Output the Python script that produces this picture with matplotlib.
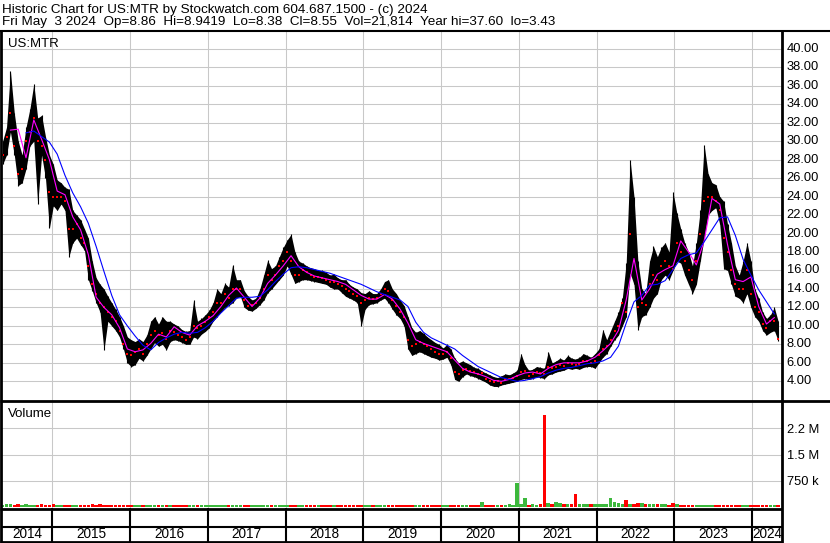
import numpy as np
import matplotlib
matplotlib.use("Agg")
import matplotlib.pyplot as plt
from matplotlib.lines import Line2D
import matplotlib.transforms as mtransforms

plt.rcParams['font.family'] = ['Liberation Sans', 'DejaVu Sans']

# ---------------- data ----------------
start_year = 2014.36
end_year = 2024.337
years = list(range(2014, 2025))

hi = [
    30.0, 31.5, 37.6, 33.0, 30.0, 28.5, 31.5, 33.5, 36.2, 32.5,
    32.8, 30.5, 28.5, 27.5, 25.8, 25.5, 25.0, 24.8, 22.5, 22.0,
    21.5, 20.5, 19.5, 17.0, 15.2, 14.5, 14.0, 13.2, 12.5, 11.8,
    11.0, 10.0, 8.8, 8.5, 8.3, 8.6, 8.3, 9.0, 10.5, 11.0,
    10.2, 11.0, 10.5, 10.5, 10.2, 10.0, 9.6, 9.4, 9.5, 12.8,
    10.5, 10.8, 11.2, 11.7, 12.5, 14.0, 13.5, 14.6, 14.2, 16.6,
    15.0, 15.0, 13.8, 13.2, 12.8, 13.0, 14.0, 15.5, 17.1, 16.2,
    16.5, 17.5, 18.5, 19.3, 19.9, 18.0, 17.0, 16.8, 16.5, 16.3,
    16.2, 16.0, 16.0, 15.8, 15.5, 15.6, 15.2, 15.0, 15.0, 14.5,
    14.2, 14.0, 13.6, 13.5, 13.8, 13.5, 13.5, 14.0, 14.8, 15.0,
    14.0, 13.5, 12.8, 12.2, 11.0, 9.8, 9.3, 9.5, 9.2, 8.8,
    8.5, 8.2, 8.0, 7.6, 8.0, 7.5, 6.5, 6.0, 6.2, 6.0,
    5.8, 5.5, 5.4, 5.1, 4.9, 4.7, 4.5, 4.4, 4.6, 4.8,
    4.7, 4.9, 5.2, 7.0, 5.8, 5.2, 5.3, 5.6, 5.5, 5.4,
    7.2, 6.0, 6.2, 6.5, 6.3, 6.8, 6.5, 6.4, 6.6, 7.0,
    6.8, 6.6, 7.0, 7.5, 9.6, 8.5, 9.5, 10.5, 11.5, 13.0,
    16.8, 28.0, 24.0, 17.0, 14.0, 13.5, 17.0, 18.6, 17.5, 18.5,
    19.0, 18.0, 24.5, 22.2, 20.5, 19.0, 18.0, 16.5, 19.0, 22.5,
    29.6, 26.5, 25.5, 25.3, 24.0, 23.5, 21.0, 19.0, 16.5, 15.5,
    17.0, 19.0, 17.0, 14.0, 13.0, 11.5, 10.8, 11.2, 12.0, 10.5,
]

lo = [
    27.5, 28.5, 31.0, 28.5, 25.2, 25.5, 27.0, 29.5, 30.0, 23.2,
    28.5, 26.0, 20.6, 23.0, 22.5, 23.2, 22.5, 17.5, 19.0, 19.5,
    18.8, 18.2, 15.0, 13.8, 12.5, 11.5, 7.4, 10.5, 10.0, 9.5,
    8.8, 7.5, 6.0, 5.6, 5.8, 6.5, 6.2, 6.8, 7.5, 8.2,
    7.8, 8.0, 7.4, 8.3, 8.5, 8.4, 8.2, 8.0, 8.0, 8.8,
    8.6, 9.1, 9.4, 9.8, 10.5, 11.0, 11.5, 12.0, 12.2, 12.5,
    13.0, 13.2, 12.0, 11.7, 11.6, 11.9, 12.3, 12.8, 13.6, 14.0,
    14.5, 15.0, 15.5, 16.5, 15.6, 14.6, 14.8, 15.0, 15.0, 14.9,
    14.8, 14.7, 14.6, 14.5, 14.2, 14.0, 14.0, 13.6, 13.2, 13.0,
    12.8, 12.5, 10.0, 11.8, 12.3, 12.4, 12.5, 12.8, 13.0, 12.5,
    11.8, 11.2, 10.8, 10.0, 7.5, 6.8, 7.0, 7.2, 7.0, 6.8,
    6.6, 6.5, 6.3, 6.4, 6.6, 5.8, 4.2, 4.0, 4.5, 4.8,
    4.6, 4.5, 4.3, 4.1, 3.9, 3.6, 3.45, 3.43, 3.6, 3.7,
    3.8, 3.9, 4.0, 4.2, 4.3, 4.2, 4.3, 4.5, 4.4, 4.3,
    4.7, 4.8, 5.0, 5.1, 5.2, 5.4, 5.3, 5.4, 5.3, 5.5,
    5.6, 5.6, 5.4, 6.0, 6.6, 7.0, 7.8, 8.5, 9.0, 10.0,
    11.0, 15.7, 14.5, 9.6, 11.0, 11.2, 12.0, 13.0, 13.5, 15.0,
    15.5, 15.0, 16.0, 17.0, 16.8, 15.5, 14.5, 13.5, 14.5, 17.0,
    19.5, 22.0, 22.5, 22.8, 21.0, 16.2, 16.0, 14.5, 13.2, 13.0,
    12.5, 13.5, 12.0, 11.0, 10.5, 9.5, 9.0, 9.3, 9.5, 8.38,
]

close = [
    28.5, 30.5, 33.0, 29.5, 26.5, 27.0, 30.0, 31.0, 32.5, 30.0,
    29.5, 28.0, 24.5, 24.0, 24.0, 24.0, 23.5, 20.5, 20.5, 21.0,
    19.5, 19.0, 16.5, 14.5, 13.5, 12.5, 12.0, 11.5, 11.0, 10.5,
    9.5, 8.0, 7.0, 6.8, 7.2, 7.5, 7.0, 8.0, 9.0, 9.5,
    9.0, 9.2, 8.6, 9.5, 9.3, 9.0, 8.8, 8.5, 8.8, 10.0,
    9.8, 10.0, 10.4, 11.0, 11.5, 12.5, 12.5, 13.5, 13.0, 14.0,
    14.0, 14.0, 12.8, 12.2, 12.3, 12.5, 13.0, 14.0, 15.5, 15.0,
    15.5, 16.5, 17.0, 18.0, 17.0, 15.5, 15.5, 16.0, 15.8, 15.5,
    15.3, 15.3, 15.2, 15.0, 14.8, 14.8, 14.5, 14.3, 14.0, 13.8,
    13.5, 13.2, 12.5, 12.8, 13.0, 12.9, 13.0, 13.4, 14.0, 13.8,
    12.8, 12.2, 11.5, 11.0, 8.5, 7.8, 8.0, 8.3, 8.0, 7.8,
    7.5, 7.2, 7.0, 7.0, 7.2, 6.5, 5.0, 4.8, 5.2, 5.3,
    5.1, 5.0, 4.8, 4.9, 4.3, 4.0, 3.9, 4.0, 3.8, 4.2,
    4.3, 4.4, 4.6, 5.0, 5.1, 4.6, 4.8, 5.0, 4.9, 4.8,
    5.5, 5.4, 5.5, 5.8, 5.7, 6.0, 5.9, 5.8, 5.9, 6.2,
    6.2, 6.0, 6.2, 6.8, 7.5, 7.8, 8.5, 9.5, 10.0, 12.5,
    11.5, 20.0, 17.0, 12.0, 12.5, 12.3, 14.5, 15.5, 15.0, 16.5,
    17.0, 16.5, 16.2, 19.0, 18.0, 17.0, 16.0, 15.0, 17.0, 20.0,
    23.5, 24.0, 24.0, 23.5, 22.5, 19.5, 18.0, 16.0, 14.5, 14.0,
    14.0, 16.0, 13.5, 12.0, 11.5, 10.2, 9.8, 10.5, 10.5, 8.55,
]

# short moving average (magenta) and long moving average (blue), every 2nd bar
ma_short = [
    np.nan, 31.2, 31.3, 28.2, 32.3, 30.2, 28.0, 24.6, 24.2, 21.8,
    20.4, 17.7, 13.1, 12.0, 11.2, 9.8, 7.5, 7.2, 7.4, 8.1,
    9.1, 8.8, 9.9, 9.3, 9.0, 10.0, 10.5, 11.1, 12.1, 13.3,
    14.1, 13.1, 12.1, 13.0, 14.6, 15.5, 16.5, 17.6, 16.4, 15.8,
    15.4, 15.2, 15.0, 14.8, 14.5, 13.9, 13.3, 12.9, 12.9, 13.4,
    12.9, 11.8, 10.3, 8.5, 8.1, 7.8, 7.5, 7.2, 6.3, 5.4,
    5.0, 4.8, 4.5, 4.1, 4.0, 4.2, 4.6, 4.9, 5.0, 4.8,
    5.4, 5.8, 6.0, 6.0, 6.0, 6.2, 6.6, 7.3, 8.1, 9.5,
    12.8, 17.3, 12.8, 14.0, 15.6, 16.1, 16.5, 19.2, 18.0, 16.6,
    19.2, 23.8, 23.2, 18.8, 15.0, 14.8, 15.3, 12.1, 10.2, 10.9,
]

ma_long = [
    np.nan, np.nan, np.nan, 30.9, 31.1, 30.5, 29.9, 28.6, 26.3, 24.4,
    22.9, 21.1, 18.6, 15.9, 13.3, 11.2, 10.0, 8.9, 7.9, 7.4,
    8.2, 8.7, 9.1, 9.3, 9.2, 9.3, 9.8, 10.5, 11.4, 12.2,
    13.0, 13.1, 13.1, 13.2, 13.9, 14.8, 15.6, 16.3, 16.4, 16.3,
    16.1, 15.9, 15.7, 15.4, 15.1, 14.8, 14.5, 14.1, 13.7, 13.4,
    13.1, 12.8, 12.1, 10.4, 9.3, 8.7, 8.3, 7.9, 7.5, 6.8,
    6.2, 5.6, 5.2, 4.8, 4.4, 4.2, 4.0, 4.1, 4.3, 4.5,
    4.9, 5.2, 5.4, 5.5, 5.7, 5.9, 6.0, 6.2, 6.6, 7.8,
    10.3, 12.6, 13.3, 14.4, 14.5, 14.9, 16.1, 17.3, 17.7, 17.9,
    19.1, 20.4, 21.7, 21.8, 19.8, 17.2, 15.5, 13.9, 12.6, 11.3,
]

# volume in thousands of shares
volume_k = [
    60, 75, 90, 55, 80, 50, 95, 65, 70, 55,
    80, 60, 50, 75, 65, 55, 70, 45, 65, 55,
    70, 55, 60, 80, 55, 90, 70, 55, 60, 45,
    55, 65, 70, 55, 45, 60, 55, 70, 45, 55,
    60, 45, 55, 70, 60, 55, 45, 60, 55, 70,
    45, 55, 60, 45, 55, 60, 70, 55, 45, 60,
    55, 60, 45, 55, 70, 60, 55, 45, 55, 60,
    55, 45, 60, 55, 70, 45, 55, 60, 55, 45,
    55, 60, 45, 55, 60, 55, 45, 55, 60, 45,
    55, 45, 60, 55, 45, 60, 55, 45, 55, 60,
    65, 55, 45, 60, 55, 45, 55, 60, 45, 55,
    60, 55, 45, 55, 60, 45, 55, 60, 55, 65,
    60, 55, 70, 145, 65, 60, 55, 65, 60, 70,
    75, 60, 685, 90, 270, 60, 75, 65, 85, 2620,
    110, 90, 140, 110, 80, 100, 90, 375, 90, 80,
    75, 90, 80, 85, 100, 90, 260, 130, 110, 100,
    200, 100, 90, 110, 120, 100, 90, 80, 85, 75,
    80, 70, 115, 75, 70, 65, 60, 70, 65, 60,
    65, 60, 70, 65, 60, 70, 65, 60, 55, 65,
    60, 55, 65, 60, 55, 60, 65, 55, 60, 50,
]

price_ticks = [4, 6, 8, 10, 12, 14, 16, 18, 20, 22, 24, 26, 28, 30, 32, 34, 36, 38, 40]
vol_ticks = [750000, 1500000, 2250000]
vol_tick_labels = ['750 k', '1.5 M', '2.2 M']

header1 = "Historic Chart for US:MTR by Stockwatch.com 604.687.1500 - (c) 2024"
header2 = "Fri May  3 2024  Op=8.86  Hi=8.9419  Lo=8.38  Cl=8.55  Vol=21,814  Year hi=37.60  lo=3.43"

# ---------------- figure ----------------
W, H = 830, 543
fig = plt.figure(figsize=(W / 100, H / 100), dpi=100)
fig.patch.set_facecolor('white')


def fx(x):
    return x / W


def fy(y):
    return 1 - y / H


t = np.linspace(start_year, end_year, len(hi))
t_ma = t[::2]
hi_a, lo_a, cl_a = np.array(hi), np.array(lo), np.array(close)
vol = np.array(volume_k) * 1000.0
x0, x1 = 2014.352, 2024.386
grid_c = '#c8c8c8'
txt_c = '#000000'

# price panel
ax = fig.add_axes([fx(2), fy(401), fx(782) - fx(2), fy(31) - fy(401)])
ax.set_xlim(x0, x1)
ax.set_ylim(1.867, 41.93)
for s in ax.spines.values():
    s.set_visible(False)
ax.set_xticks(range(2015, 2025))
ax.set_xticklabels([])
ax.tick_params(axis='x', length=0)
ax.yaxis.tick_right()
ax.set_yticks(price_ticks)
ax.set_yticklabels([f"{v:.2f}" for v in price_ticks], fontsize=9.3, color=txt_c)
ax.tick_params(axis='y', length=0, pad=3.4)
ax.grid(True, color=grid_c, lw=0.75)
ax.set_axisbelow(True)
ax.fill_between(t, lo_a, hi_a, color='black', lw=0, zorder=2)
ax.vlines(t, lo_a, hi_a, color='black', lw=0.8, zorder=2)
ax.scatter(t, cl_a, s=2.2, marker='s', color='#ff0000', linewidths=0, zorder=3)
ax.plot(t_ma, ma_short, color='#ff00ff', lw=0.8, zorder=4)
ax.plot(t_ma, ma_long, color='#0000ff', lw=0.8, zorder=4)
ax.text(0.008, 0.965, 'US:MTR', transform=ax.transAxes,
        fontsize=9.5, color=txt_c, ha='left', va='center')
off = mtransforms.ScaledTranslation(0, 1.5 / 100, fig.dpi_scale_trans)
for lab in ax.get_yticklabels():
    lab.set_transform(lab.get_transform() + off)

# volume panel
axv = fig.add_axes([fx(2), fy(508), fx(782) - fx(2), fy(402) - fy(508)])
axv.set_xlim(x0, x1)
axv.set_ylim(-28600, 3.006e6)
for s in axv.spines.values():
    s.set_visible(False)
axv.set_xticks(range(2015, 2025))
axv.set_xticklabels([])
axv.tick_params(axis='x', length=0)
axv.yaxis.tick_right()
axv.set_yticks(vol_ticks)
axv.set_yticklabels(vol_tick_labels, fontsize=9.3, color=txt_c)
axv.tick_params(axis='y', length=0, pad=3.4)
axv.grid(True, color=grid_c, lw=0.75)
axv.set_axisbelow(True)
up = np.r_[True, cl_a[1:] >= cl_a[:-1]]
colors = np.where(up, '#3cb83c', '#ff0000')
axv.bar(t, vol, width=0.045, color=colors, lw=0, zorder=2)
axv.text(0.008, 0.89, 'Volume', transform=axv.transAxes, fontsize=9.5,
         color=txt_c, ha='left', va='center')

# bottom year strip
axb = fig.add_axes([fx(2), fy(542), fx(782) - fx(2), fy(508) - fy(542)])
axb.set_xlim(x0, x1)
axb.set_ylim(0, 34)
axb.axis('off')
for y in years:
    a = max(y, x0)
    b = min(y + 1, x1)
    axb.text((a + b) / 2, 7.5, str(y), ha='center', va='center', fontsize=9.8, color=txt_c)
    if y > 2014:
        axb.plot([y, y], [0, 34], color='black', lw=1.5, solid_capstyle='butt')
axb.plot([x0, x1], [15, 15], color='black', lw=1.5)


# frame lines (pixel layout)
def line(xa, ya, xb, yb, lw=1.5):
    fig.add_artist(Line2D([fx(xa), fx(xb)], [fy(ya), fy(yb)], color='black', lw=lw,
                          solid_capstyle='butt'))


line(0, 31, 830, 31, 1.5)
line(1, 31, 1, 543, 2)
line(782, 31, 782, 543, 2)
line(0, 401, 830, 401, 2)
line(0, 508.5, 782, 508.5, 2)
line(0, 541.5, 782, 541.5, 2)

fig.text(fx(2), fy(10), header1, fontsize=9.7, color=txt_c, ha='left', va='center')
fig.text(fx(2), fy(22.5), header2, fontsize=9.7, color=txt_c, ha='left', va='center')

fig.savefig('out.png', dpi=100, facecolor='white')
